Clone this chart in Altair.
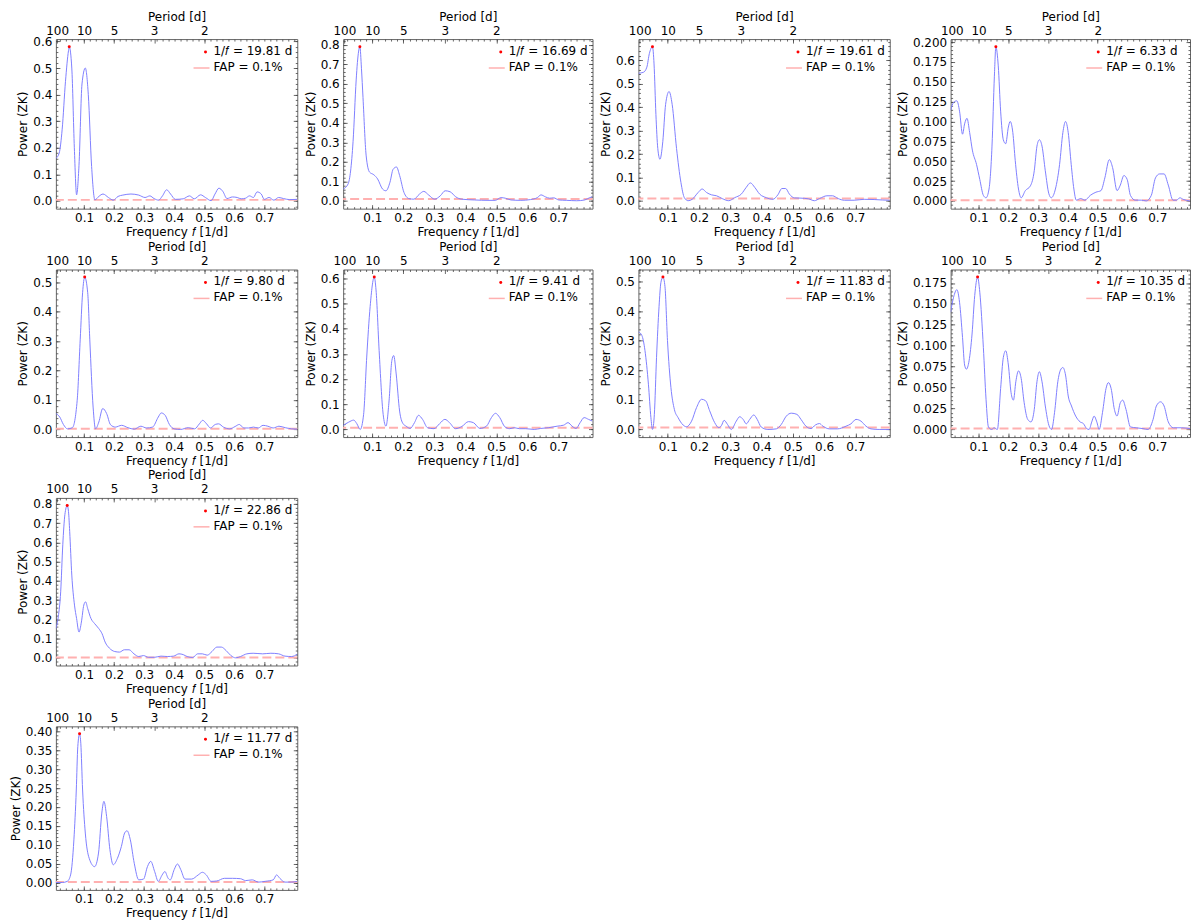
import altair as alt
import numpy as np
import pandas as pd

# ---------------- data ----------------
freq_1 = [0.006,0.017,0.027,0.038,0.048,0.0505,0.059,0.0675,0.075,0.083,0.093,0.104,0.114,0.125,0.136,0.149,0.163,0.181,0.197,0.213,0.229,0.256,0.282,0.303,0.319,0.333,0.348,0.361,0.375,0.388,0.404,0.430,0.451,0.467,0.488,0.504,0.523,0.536,0.549,0.562,0.576,0.594,0.610,0.623,0.637,0.651,0.664,0.676,0.690,0.700,0.716,0.732,0.748,0.764,0.785,0.810]
power_1 = [0.16,0.18,0.27,0.45,0.565,0.58,0.50,0.20,0.023,0.134,0.44,0.50,0.40,0.13,0.004,0.017,0.026,0.013,0.003,0.017,0.022,0.026,0.022,0.013,0.019,0.009,0.003,0.019,0.042,0.026,0.006,0.008,0.019,0.008,0.023,0.013,0.001,0.026,0.048,0.036,0.009,0.015,0.013,0.008,0.010,0.019,0.013,0.034,0.026,0.006,0.013,0.003,0.013,0.009,0.005,0.006]

freq_2 = [0.006,0.022,0.038,0.048,0.052,0.0599,0.065,0.070,0.080,0.091,0.105,0.117,0.133,0.144,0.157,0.167,0.178,0.188,0.202,0.218,0.234,0.252,0.266,0.282,0.301,0.319,0.335,0.351,0.369,0.388,0.430,0.473,0.496,0.515,0.529,0.547,0.579,0.610,0.632,0.644,0.658,0.672,0.685,0.701,0.727,0.759,0.785,0.801,0.810]
power_2 = [0.061,0.087,0.305,0.62,0.71,0.79,0.68,0.53,0.235,0.148,0.134,0.113,0.061,0.052,0.096,0.162,0.174,0.131,0.044,0.012,0.009,0.035,0.049,0.030,0.009,0.026,0.052,0.047,0.021,0.009,0.005,0.003,0.003,0.017,0.014,0.005,0.003,0.007,0.017,0.031,0.021,0.014,0.016,0.005,0.003,0.001,0.005,0.017,0.021]

freq_3 = [0.006,0.022,0.033,0.041,0.051,0.056,0.062,0.068,0.075,0.084,0.093,0.104,0.114,0.128,0.142,0.153,0.165,0.178,0.197,0.210,0.224,0.240,0.256,0.274,0.295,0.314,0.335,0.351,0.364,0.378,0.394,0.415,0.436,0.452,0.465,0.477,0.489,0.505,0.526,0.550,0.569,0.585,0.609,0.627,0.645,0.665,0.696,0.728,0.760,0.787,0.810]
power_3 = [0.545,0.549,0.571,0.629,0.658,0.585,0.369,0.224,0.178,0.253,0.412,0.467,0.412,0.224,0.079,0.014,0.001,0.007,0.036,0.051,0.036,0.026,0.022,0.010,0.001,0.014,0.029,0.058,0.077,0.058,0.029,0.014,0.007,0.026,0.053,0.053,0.029,0.013,0.012,0.009,0.001,0.010,0.022,0.022,0.010,0.003,0.003,0.007,0.006,0.004,0.003]

freq_4 = [0.006,0.016,0.027,0.036,0.046,0.053,0.061,0.070,0.079,0.093,0.104,0.116,0.125,0.135,0.145,0.153,0.158,0.166,0.174,0.183,0.191,0.200,0.206,0.215,0.223,0.234,0.243,0.257,0.274,0.287,0.296,0.304,0.313,0.324,0.336,0.344,0.358,0.372,0.383,0.392,0.401,0.411,0.420,0.428,0.443,0.457,0.475,0.494,0.511,0.524,0.539,0.550,0.565,0.576,0.588,0.599,0.610,0.626,0.646,0.663,0.680,0.694,0.708,0.723,0.737,0.753,0.765,0.776,0.787,0.810]
power_4 = [0.114,0.124,0.126,0.113,0.084,0.097,0.104,0.086,0.064,0.046,0.027,0.007,0.004,0.015,0.069,0.157,0.194,0.170,0.113,0.077,0.072,0.093,0.100,0.086,0.051,0.015,0.004,0.013,0.019,0.038,0.069,0.077,0.069,0.038,0.009,0.004,0.015,0.046,0.086,0.100,0.086,0.046,0.015,0.001,0.003,0.001,0.007,0.011,0.013,0.029,0.052,0.042,0.013,0.020,0.032,0.027,0.007,0.001,0.001,0.0,0.007,0.029,0.034,0.034,0.020,0.001,0.001,0.004,0.002,0.0]

freq_5 = [0.006,0.019,0.031,0.045,0.061,0.077,0.087,0.095,0.102,0.112,0.119,0.130,0.138,0.149,0.162,0.175,0.188,0.204,0.225,0.246,0.267,0.289,0.308,0.328,0.347,0.357,0.370,0.384,0.400,0.421,0.447,0.468,0.484,0.495,0.508,0.521,0.537,0.548,0.564,0.585,0.603,0.617,0.632,0.648,0.664,0.680,0.696,0.712,0.730,0.749,0.770,0.791,0.810]
power_5 = [0.054,0.042,0.017,0.002,0.006,0.099,0.304,0.464,0.517,0.464,0.304,0.076,0.002,0.025,0.071,0.054,0.016,0.008,0.014,0.006,0.001,0.011,0.005,0.008,0.042,0.056,0.048,0.017,0.002,0.0,0.006,0.002,0.019,0.031,0.019,0.005,0.017,0.019,0.008,0.002,0.010,0.017,0.005,0.005,0.008,0.005,0.014,0.011,0.005,0.011,0.006,0.002,0.001]

freq_6 = [0.006,0.024,0.040,0.050,0.061,0.072,0.082,0.093,0.1063,0.112,0.122,0.135,0.144,0.154,0.163,0.169,0.177,0.188,0.199,0.209,0.222,0.236,0.249,0.262,0.278,0.299,0.317,0.334,0.349,0.368,0.389,0.410,0.426,0.447,0.468,0.484,0.497,0.511,0.527,0.543,0.558,0.574,0.595,0.622,0.643,0.669,0.696,0.717,0.731,0.744,0.757,0.770,0.783,0.797,0.810]
power_6 = [0.016,0.029,0.037,0.023,0.0,0.06,0.287,0.487,0.604,0.553,0.313,0.06,0.013,0.113,0.273,0.293,0.22,0.073,0.023,0.013,0.004,0.027,0.056,0.04,0.007,0.003,0.023,0.04,0.027,0.003,0.012,0.031,0.027,0.004,0.013,0.047,0.064,0.047,0.011,0.003,0.007,0.003,0.003,0.0,0.004,0.007,0.013,0.017,0.027,0.013,0.004,0.027,0.047,0.04,0.033]

freq_7 = [0.006,0.017,0.027,0.038,0.046,0.051,0.057,0.064,0.072,0.078,0.0845,0.091,0.099,0.110,0.121,0.133,0.149,0.160,0.176,0.192,0.208,0.221,0.234,0.250,0.263,0.272,0.280,0.291,0.303,0.319,0.330,0.341,0.351,0.362,0.375,0.386,0.399,0.420,0.447,0.463,0.479,0.495,0.513,0.526,0.542,0.558,0.572,0.585,0.596,0.617,0.643,0.670,0.686,0.702,0.718,0.734,0.750,0.776,0.810]
power_7 = [0.330,0.318,0.267,0.153,0.040,0.0,0.051,0.244,0.415,0.497,0.515,0.483,0.301,0.142,0.068,0.040,0.015,0.009,0.028,0.074,0.102,0.097,0.063,0.023,0.006,0.014,0.031,0.017,0.0,0.028,0.043,0.034,0.019,0.034,0.049,0.034,0.008,0.0,0.002,0.017,0.045,0.055,0.051,0.034,0.011,0.003,0.015,0.020,0.011,0.002,0.002,0.011,0.019,0.034,0.028,0.011,0.002,0.0,0.0]

freq_8 = [0.006,0.016,0.027,0.036,0.046,0.053,0.059,0.068,0.078,0.087,0.0966,0.104,0.116,0.125,0.133,0.144,0.152,0.163,0.174,0.183,0.191,0.200,0.209,0.217,0.225,0.234,0.243,0.253,0.265,0.276,0.287,0.296,0.304,0.313,0.324,0.336,0.345,0.355,0.366,0.375,0.383,0.392,0.401,0.412,0.426,0.441,0.452,0.463,0.471,0.480,0.488,0.497,0.505,0.516,0.528,0.536,0.545,0.556,0.565,0.576,0.584,0.595,0.610,0.629,0.652,0.669,0.686,0.697,0.711,0.723,0.737,0.754,0.782,0.810]
power_8 = [0.140,0.158,0.167,0.152,0.110,0.077,0.072,0.082,0.114,0.160,0.182,0.164,0.098,0.036,0.003,0.0,0.002,0.0,0.049,0.086,0.094,0.077,0.044,0.035,0.057,0.070,0.061,0.032,0.012,0.009,0.024,0.057,0.069,0.057,0.028,0.005,0.0,0.020,0.057,0.071,0.074,0.065,0.040,0.028,0.016,0.009,0.007,0.001,0.0,0.009,0.016,0.009,0.0,0.020,0.049,0.056,0.049,0.024,0.016,0.032,0.035,0.024,0.003,0.002,0.001,0.0,0.012,0.028,0.033,0.028,0.009,0.002,0.002,0.001]

freq_9 = [0.006,0.014,0.022,0.029,0.036,0.0437,0.048,0.052,0.059,0.068,0.075,0.083,0.091,0.099,0.105,0.112,0.123,0.135,0.149,0.160,0.170,0.184,0.202,0.218,0.234,0.250,0.266,0.282,0.298,0.314,0.335,0.356,0.377,0.398,0.416,0.430,0.443,0.462,0.478,0.494,0.510,0.526,0.542,0.557,0.573,0.589,0.605,0.621,0.642,0.663,0.695,0.722,0.748,0.769,0.791,0.810]
power_9 = [0.152,0.213,0.343,0.587,0.744,0.791,0.76,0.657,0.430,0.274,0.204,0.134,0.186,0.274,0.291,0.256,0.204,0.178,0.152,0.125,0.082,0.051,0.033,0.030,0.042,0.042,0.021,0.007,0.012,0.003,0.003,0.009,0.007,0.009,0.021,0.017,0.007,0.002,0.021,0.021,0.014,0.033,0.056,0.056,0.038,0.012,0.0,0.007,0.021,0.024,0.021,0.024,0.021,0.009,0.007,0.019]

freq_10 = [0.006,0.028,0.044,0.055,0.066,0.074,0.079,0.085,0.089,0.095,0.104,0.117,0.135,0.148,0.159,0.166,0.175,0.186,0.197,0.211,0.224,0.235,0.243,0.254,0.267,0.282,0.298,0.311,0.322,0.335,0.347,0.360,0.369,0.380,0.387,0.400,0.411,0.422,0.436,0.458,0.480,0.494,0.507,0.523,0.542,0.567,0.594,0.621,0.638,0.660,0.681,0.703,0.730,0.741,0.752,0.769,0.790,0.810]
power_10 = [0.0,0.0,0.003,0.020,0.113,0.245,0.360,0.394,0.369,0.245,0.131,0.064,0.042,0.078,0.184,0.215,0.175,0.087,0.047,0.064,0.095,0.131,0.137,0.113,0.051,0.007,0.009,0.042,0.056,0.029,0.003,0.020,0.029,0.011,0.007,0.034,0.049,0.034,0.009,0.009,0.020,0.027,0.020,0.003,0.004,0.011,0.011,0.010,0.005,0.007,0.001,0.003,0.007,0.020,0.011,0.001,0.001,0.003]

peak_period = [19.81, 16.69, 19.61, 6.33, 9.80, 9.41, 11.83, 10.35, 22.86, 11.77]
peak_power = [0.58, 0.79, 0.658, 0.194, 0.517, 0.604, 0.515, 0.182, 0.791, 0.394]
fap_level = [0.004, 0.01, 0.01, 0.001, 0.002, 0.007, 0.007, 0.001, 0.002, 0.001]
fap_text = "FAP = 0.1%"

x_tick_values = [0.1, 0.2, 0.3, 0.4, 0.5, 0.6, 0.7]
period_tick_values = [100, 10, 5, 3, 2]
freq_domain = [0.006, 0.81]

frequencies = [freq_1, freq_2, freq_3, freq_4, freq_5, freq_6, freq_7, freq_8, freq_9, freq_10]
powers = [power_1, power_2, power_3, power_4, power_5, power_6, power_7, power_8, power_9, power_10]

# ---------------- styling ----------------
y_steps = [0.1, 0.1, 0.1, 0.025, 0.1, 0.1, 0.1, 0.025, 0.1, 0.05]
y_formats = [".1f", ".1f", ".1f", ".3f", ".1f", ".1f", ".1f", ".3f", ".1f", ".2f"]
widths = [242, 250, 252, 240, 242, 250, 252, 240, 242, 242]
heights = [170, 170, 170, 170, 168, 168, 168, 168, 168, 164]

FONT = "DejaVu Sans"
LINE_BLUE = "#7f7fff"
FAP_PINK = "#ffb0b0"
TICK_COLOR = "#444444"


def tick_axis(orient, values, size):
    # inward ticks, matplotlib style: axis pulled inside the frame by its tick length
    return alt.Axis(orient=orient, values=values, labels=False, ticks=True, tickSize=size,
                    tickColor=TICK_COLOR, tickWidth=0.8, offset=-size, domain=False,
                    grid=False, title=None)


def make_panel(i):
    f = frequencies[i]
    p = powers[i]
    assert len(f) == len(p), i
    W = widths[i]
    H = heights[i]
    M = max(p)
    ydom = [-0.05 * M, 1.05 * M]
    step = y_steps[i]
    yticks = [round(float(v), 4) for v in np.arange(0, 1.05 * M + 1e-9, step)]
    yminor = [round(float(v), 5) for v in np.arange(-0.05 * M, 1.05 * M, step / 5)
              if abs(round(v / (step / 5))) >= 0]
    yminor = [round(k * step / 5, 5) for k in range(int(np.ceil(-0.05 * M / (step / 5))),
                                                      int(np.floor(1.05 * M / (step / 5))) + 1)]
    xminor = [round(k * 0.02, 3) for k in range(1, 41) if freq_domain[0] < k * 0.02 < freq_domain[1]]
    top_major = [1.0 / v for v in period_tick_values]

    xs = alt.Scale(domain=freq_domain, nice=False, zero=False)
    ys = alt.Scale(domain=ydom, nice=False, zero=False)
    y_axis = alt.Axis(values=yticks, format=y_formats[i], title="Power (ZK)", orient="left")

    curve = pd.DataFrame({"freq": f, "power": p})
    peak = pd.DataFrame({"freq": [1.0 / peak_period[i]], "power": [peak_power[i]]})
    fap = pd.DataFrame({"power": [fap_level[i]]})
    leg = pd.DataFrame({"l1": [f"1/\U0001D453 = {peak_period[i]:.2f} d"], "l2": [fap_text]})

    fap_rule = alt.Chart(fap).mark_rule(color=FAP_PINK, strokeWidth=2, strokeDash=[9, 4]).encode(
        y=alt.Y("power:Q", scale=ys, axis=None)
    )
    line = alt.Chart(curve).mark_line(color=LINE_BLUE, strokeWidth=1, interpolate="monotone", clip=True).encode(
        x=alt.X("freq:Q", scale=xs,
                axis=alt.Axis(orient="bottom", values=x_tick_values, format=".1f",
                              title="Frequency \U0001D453 [1/d]")),
        y=alt.Y("power:Q", scale=ys, axis=y_axis),
    )
    dot = alt.Chart(peak).mark_point(filled=True, color="red", size=9, opacity=1, shape="circle").encode(
        x=alt.X("freq:Q", scale=xs,
                axis=alt.Axis(orient="top", values=top_major,
                              labelExpr="format(1/datum.value, '.0f')", title="Period [d]",
                              labelPadding=2, titlePadding=1)),
        y=alt.Y("power:Q", scale=ys, axis=None),
    )

    def ticks_layer(xa, ya):
        return alt.Chart(curve).mark_line(opacity=0).encode(
            x=alt.X("freq:Q", scale=xs, axis=xa),
            y=alt.Y("power:Q", scale=ys, axis=ya),
        )

    t_major_bl = ticks_layer(tick_axis("bottom", x_tick_values, 4), tick_axis("left", yticks, 4))
    t_minor_bl = ticks_layer(tick_axis("bottom", xminor, 2), tick_axis("left", yminor, 2))
    t_major_tr = ticks_layer(tick_axis("top", top_major, 4), tick_axis("right", yticks, 4))
    t_minor_tr = ticks_layer(tick_axis("top", xminor, 2), tick_axis("right", yminor, 2))

    leg_dot = alt.Chart(leg).mark_point(filled=True, color="red", size=9, opacity=1).encode(
        x=alt.value(W - 92), y=alt.value(13)
    )
    leg_line = alt.Chart(leg).mark_rule(color=FAP_PINK, strokeWidth=1.5).encode(
        x=alt.value(W - 104), x2=alt.value(W - 88), y=alt.value(29)
    )
    leg_t1 = alt.Chart(leg).mark_text(align="left", baseline="middle", fontSize=12, font=FONT, color="black").encode(
        x=alt.value(W - 84), y=alt.value(12), text="l1:N"
    )
    leg_t2 = alt.Chart(leg).mark_text(align="left", baseline="middle", fontSize=12, font=FONT, color="black").encode(
        x=alt.value(W - 84), y=alt.value(28), text="l2:N"
    )
    return alt.layer(
        fap_rule, line, dot, t_major_bl, t_minor_bl, t_major_tr, t_minor_tr,
        leg_dot, leg_line, leg_t1, leg_t2
    ).resolve_axis(x="independent", y="independent").properties(width=W, height=H)


def blank():
    return alt.Chart(pd.DataFrame({"v": [0]})).mark_point(opacity=0).encode(
        x=alt.value(0), y=alt.value(0)
    ).properties(width=1, height=1, view=alt.ViewBackground(stroke="transparent"))


panels = [make_panel(i) for i in range(10)]
cells = panels[:9] + [blank(), blank(), blank()] + [panels[9]]

chart = alt.concat(
    *cells, columns=4, spacing={"row": 1, "column": 4}, align="each", bounds="full", padding=0
).configure(font=FONT).configure_view(
    stroke="#666666", strokeWidth=1
).configure_axis(
    labelFont=FONT, titleFont=FONT, labelFontSize=12, titleFontSize=12, titleFontWeight="normal",
    labelColor="black", titleColor="black", ticks=False, domain=False, grid=False,
    labelPadding=4, titlePadding=3, labelFlush=False, labelOverlap=False,
)

chart.save("out.html", embed_options={"renderer": "svg", "actions": False})
